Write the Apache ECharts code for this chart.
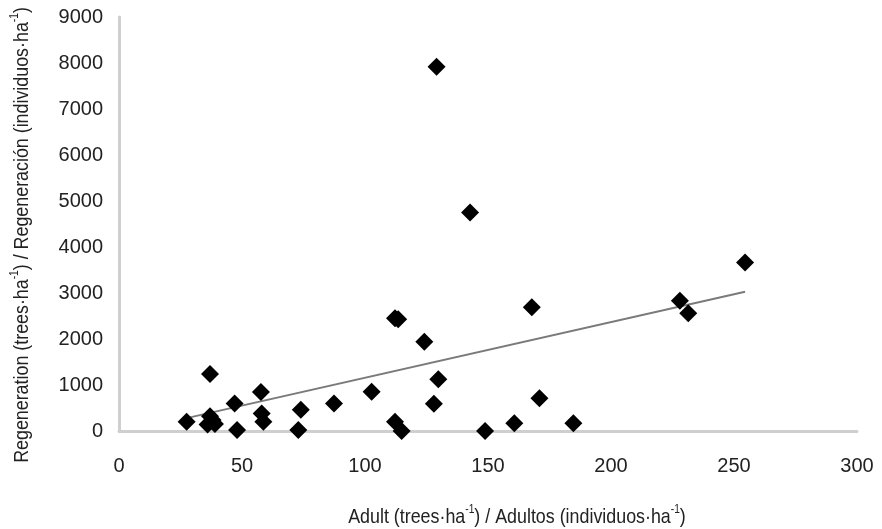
<!DOCTYPE html>
<html>
<head>
<meta charset="utf-8">
<script src="https://cdn.jsdelivr.net/npm/echarts@6/dist/echarts.min.js"></script>
<style>
html,body{margin:0;padding:0;background:#fff;}
#chart{width:882px;height:529px;}
</style>
</head>
<body>
<div id="chart"></div>
<script>
// Adult density (trees·ha-1)
var adultX = [27.5, 37, 37, 36, 39, 38, 47, 48, 57.7, 58, 58.7, 73.9, 72.9, 87.4, 102.7,
  112.2, 114.9, 112.2, 113.5, 124.1, 128, 129.8, 129.1, 142.7, 148.8, 160.7, 167.8,
  170.9, 184.7, 228, 231.4, 254.5];
// Regeneration density (trees·ha-1)
var regenY = [200, 1240, 320, 140, 150, 240, 600, 20, 850, 380, 200, 460, 20, 600, 855,
  200, 0, 2450, 2430, 1940, 590, 1125, 7920, 4750, 0, 170, 2690,
  710, 170, 2830, 2560, 3665];
// Linear trend line end points
var trendX = [27.5, 254.5];
var trendY = [280, 3025];

var xTicks = [0, 50, 100, 150, 200, 250, 300];
var yTicks = [0, 1000, 2000, 3000, 4000, 5000, 6000, 7000, 8000, 9000];

var xTitle = 'Adult (trees·ha{sup|-1}) / Adultos (individuos·ha{sup|-1})';
var yTitle = 'Regeneration (trees·ha{sup|-1}) / Regeneración (individuos·ha{sup|-1})';

var points = adultX.map(function (x, i) { return [x, regenY[i]]; });
var trend = trendX.map(function (x, i) { return [x, trendY[i]]; });

var tickFont = '"Liberation Sans", Arial, sans-serif';
var titleStyle = function (text) {
  return {
    text: text,
    fontSize: 21,
    fontFamily: tickFont,
    fill: '#222',
    align: 'center',
    verticalAlign: 'middle',
    lineHeight: 26,
    rich: {
      sup: { fontSize: 12, fontFamily: tickFont, fill: '#222', verticalAlign: 'top', lineHeight: 26 }
    }
  };
};

var chart = echarts.init(document.getElementById('chart'));
chart.setOption({
  animation: false,
  backgroundColor: '#fff',
  grid: { left: 119, right: 25, top: 17, bottom: 98, containLabel: false, outerBoundsMode: 'none' },
  xAxis: {
    type: 'value',
    min: xTicks[0], max: xTicks[xTicks.length - 1], interval: 50,
    splitLine: { show: false },
    axisTick: { show: false },
    axisLine: { show: true, lineStyle: { color: '#cfcfcf', width: 3 } },
    axisLabel: { color: '#222', fontSize: 20, fontFamily: tickFont, margin: 25,
      formatter: function (v) { return String(v); } }
  },
  yAxis: {
    type: 'value',
    min: yTicks[0], max: yTicks[yTicks.length - 1], interval: 1000,
    splitLine: { show: false },
    axisTick: { show: false },
    axisLine: { show: true, lineStyle: { color: '#cfcfcf', width: 3 } },
    axisLabel: { color: '#222', fontSize: 20, fontFamily: tickFont, margin: 16,
      formatter: function (v) { return String(v); } }
  },
  graphic: [
    { type: 'text', x: 517, y: 517, scaleX: 0.85, silent: true, style: titleStyle(xTitle) },
    { type: 'text', x: 22, y: 235, rotation: Math.PI / 2, scaleX: 0.85, silent: true, style: titleStyle(yTitle) }
  ],
  series: [
    {
      type: 'line',
      data: trend,
      symbol: 'none',
      lineStyle: { color: '#7a7a7a', width: 2 },
      z: 2
    },
    {
      type: 'scatter',
      data: points,
      symbol: 'diamond',
      symbolSize: 18,
      itemStyle: { color: '#000', opacity: 1 },
      z: 3
    }
  ]
});
</script>
</body>
</html>
